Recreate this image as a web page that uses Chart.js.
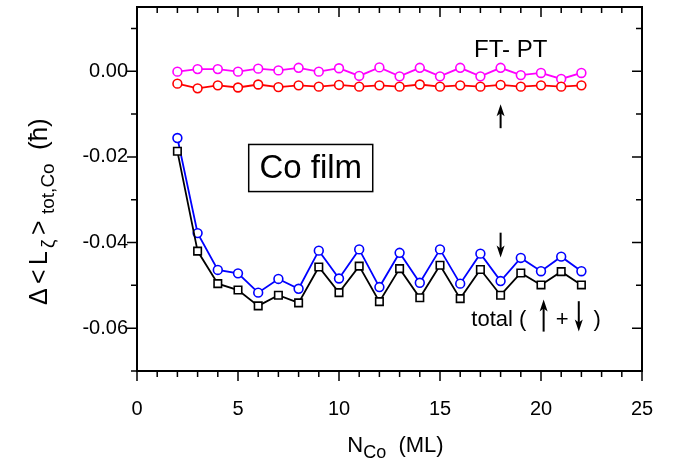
<!DOCTYPE html>
<html><head><meta charset="utf-8">
<script src="https://cdn.jsdelivr.net/npm/chart.js@4/dist/chart.umd.min.js"></script>
<style>html,body{margin:0;padding:0;background:#fff}#wrap{width:681px;height:470px;position:relative}</style>
</head><body><div id="wrap"><canvas id="c"></canvas></div>
<script>
// ---- data ----
const nCo = [2,3,4,5,6,7,8,9,10,11,12,13,14,15,16,17,18,19,20,21,22];
const ftptMagenta = [-0.0001,0.0005,0.0005,-0.0001,0.0006,0.0002,0.0008,-0.0001,0.0007,-0.0011,0.0009,-0.0012,0.0008,-0.0012,0.0008,-0.0012,0.0008,-0.0009,-0.0004,-0.0018,-0.0004];
const ftptUp = [-0.0029,-0.0040,-0.0033,-0.0038,-0.0031,-0.0037,-0.0033,-0.0036,-0.0032,-0.0036,-0.0033,-0.0036,-0.0031,-0.0036,-0.0033,-0.0036,-0.0032,-0.0036,-0.0033,-0.0036,-0.0033];
const spinDown = [-0.0156,-0.0378,-0.0464,-0.0472,-0.0517,-0.0485,-0.0508,-0.0419,-0.0484,-0.0416,-0.0504,-0.0424,-0.0494,-0.0416,-0.0496,-0.0426,-0.0490,-0.0436,-0.0467,-0.0433,-0.0467];
const totalUpDown = [-0.0187,-0.0420,-0.0496,-0.0511,-0.0548,-0.0523,-0.0541,-0.0457,-0.0517,-0.0455,-0.0538,-0.0461,-0.0529,-0.0453,-0.0531,-0.0463,-0.0523,-0.0471,-0.0499,-0.0468,-0.0499];
const xTickLabels = [0,5,10,15,20,25];
const yTickLabels = [-0.06,-0.04,-0.02,0.00];
const xRange = [0,25];
const yRange = [-0.07,0.015];

// ---- annotations (data coordinates) ----
const texts = [
  {text:'FT- PT', x:18.5, y:0.0034, size:24, align:'center'},
  {text:'total (', x:16.55, y:-0.0596, size:22, align:'left'},
  {text:'+', x:21.05, y:-0.0596, size:22, align:'center'},
  {text:')', x:22.78, y:-0.0596, size:22, align:'center'}
];
const arrows = [
  {x:18, from:-0.0133, to:-0.0077},
  {x:18, from:-0.0377, to:-0.0435},
  {x:20.13, from:-0.0608, to:-0.0533},
  {x:21.87, from:-0.0537, to:-0.0608}
];
const boxLabel = {text:'Co film', x0:5.53, x1:11.67, y0:-0.0171, y1:-0.0281, size:33};

const FONT = '"Liberation Sans", Arial, Helvetica, sans-serif';

function ds(data, color, style, r){
  return {data: nCo.map((n,i)=>({x:n,y:data[i]})), borderColor:color, backgroundColor:'#fff',
    borderWidth:1.8, pointStyle:style, pointRadius:r, pointBorderWidth:1.6,
    pointBackgroundColor:'#fff', pointBorderColor:color, showLine:true, tension:0};
}

const decor = {
  id:'decor',
  afterDatasetsDraw(chart){
    const {ctx, chartArea:a, scales:{x,y}} = chart;
    ctx.save();
    ctx.strokeStyle='#000'; ctx.fillStyle='#000';
    // ticks
    ctx.lineWidth=1.5;
    ctx.beginPath();
    for(let k=xRange[0]; k<=xRange[1]; k++){
      const px = x.getPixelForValue(k), L = (k%5===0)?10:6;
      ctx.moveTo(px,a.bottom); ctx.lineTo(px,a.bottom+L);
      ctx.moveTo(px,a.top); ctx.lineTo(px,a.top+L);
    }
    for(let k=-7; k<=1; k++){
      const py = y.getPixelForValue(k*0.01), L = (k%2===0)?10:6;
      ctx.moveTo(a.left,py); ctx.lineTo(a.left-L,py);
      ctx.moveTo(a.right,py); ctx.lineTo(a.right-L,py);
    }
    ctx.stroke();
    // frame
    ctx.lineWidth=2;
    ctx.strokeRect(a.left,a.top,a.right-a.left,a.bottom-a.top);
    // texts
    ctx.textBaseline='alphabetic';
    texts.forEach(t=>{
      ctx.font = t.size+'px '+FONT; ctx.textAlign=t.align;
      ctx.fillText(t.text, x.getPixelForValue(t.x), y.getPixelForValue(t.y));
    });
    // arrows
    ctx.lineWidth=2;
    arrows.forEach(ar=>{
      const px=x.getPixelForValue(ar.x), p0=y.getPixelForValue(ar.from), p1=y.getPixelForValue(ar.to);
      const dir = Math.sign(p1-p0);
      ctx.beginPath(); ctx.moveTo(px,p0); ctx.lineTo(px,p1-dir*5); ctx.stroke();
      ctx.beginPath(); ctx.moveTo(px,p1); ctx.lineTo(px-4,p1-dir*12); ctx.lineTo(px,p1-dir*9); ctx.lineTo(px+4,p1-dir*12); ctx.closePath(); ctx.fill();
    });
    // box
    const bx0=x.getPixelForValue(boxLabel.x0), bx1=x.getPixelForValue(boxLabel.x1);
    const by0=y.getPixelForValue(boxLabel.y0), by1=y.getPixelForValue(boxLabel.y1);
    ctx.lineWidth=1.5; ctx.strokeRect(bx0,by0,bx1-bx0,by1-by0);
    ctx.font = boxLabel.size+'px '+FONT; ctx.textAlign='center'; ctx.textBaseline='middle';
    ctx.fillText(boxLabel.text,(bx0+bx1)/2,(by0+by1)/2+1);
    // x title
    ctx.textBaseline='alphabetic'; ctx.textAlign='left';
    const xt = [['N',22,0],['Co',18,6],['  (ML)',22,0]];
    let w=0; xt.forEach(p=>{ctx.font=p[1]+'px '+FONT; w+=ctx.measureText(p[0]).width;});
    let cx = (a.left+a.right)/2 + 6 - w/2;
    xt.forEach(p=>{ctx.font=p[1]+'px '+FONT; ctx.fillText(p[0],cx,452+p[2]); cx+=ctx.measureText(p[0]).width;});
    // y title (rotated), pieces placed along the reading direction
    const yt = [['\u0394',25,0,0],['<',25,0,21],['L',25,0,40],['\u03B6',19,7,57],['>',25,0,70],['tot,Co',19,7,91],['(\u0127)',26,0,155]];
    ctx.translate(47, 305); ctx.rotate(-Math.PI/2);
    yt.forEach(p=>{ctx.font=p[1]+'px '+FONT; ctx.fillText(p[0],p[3],p[2]);});
    ctx.restore();
  }
};

new Chart(document.getElementById('c'), {
  type:'scatter',
  data:{datasets:[
    ds(totalUpDown,'#000000','rect',5.3),
    ds(spinDown,'#0000ff','circle',4.4),
    ds(ftptUp,'#ff0000','circle',4.4),
    ds(ftptMagenta,'#ff00ff','circle',4.4)
  ]},
  options:{
    responsive:true, maintainAspectRatio:false, animation:false,
    layout:{padding:{top:7,right:39,left:0,bottom:0}},
    plugins:{legend:{display:false}, tooltip:{enabled:false}},
    scales:{
      x:{type:'linear', min:xRange[0], max:xRange[1],
        afterFit:s=>{s.height=99; s.paddingLeft=0; s.paddingRight=0;},
        grid:{display:false, drawTicks:false}, border:{display:false},
        ticks:{stepSize:5, padding:26, color:'#000', font:{family:FONT,size:20},
          callback:v=> xTickLabels.includes(v)? String(v):''}},
      y:{type:'linear', min:yRange[0], max:yRange[1],
        afterFit:s=>{s.width=137; s.paddingTop=0; s.paddingBottom=0;},
        grid:{display:false, drawTicks:false}, border:{display:false},
        ticks:{stepSize:0.02, includeBounds:false, padding:9, color:'#000', font:{family:FONT,size:20},
          callback:v=>{ const m = yTickLabels.find(t=>Math.abs(t-v)<1e-9); return m===undefined? '' : (Math.abs(m)<1e-9?0:m).toFixed(2); }}}
    }
  },
  plugins:[decor]
});
</script>
</body></html>
